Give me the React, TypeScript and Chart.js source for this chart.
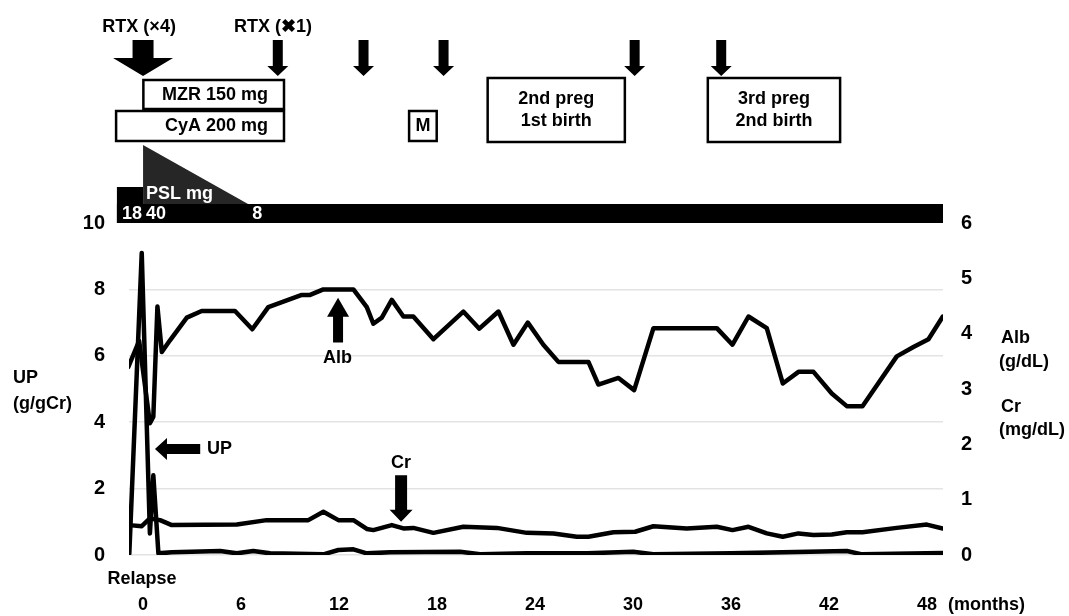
import React, { useEffect, useRef } from "react";
import { Chart, registerables } from "chart.js";

Chart.register(...registerables);

const FONT = '"Liberation Sans", Arial, Helvetica, sans-serif';

// x axis (months after relapse)
const xTickMonths = [0, 6, 12, 18, 24, 30, 36, 42, 48];

// Urinary protein (g/gCr) – left axis
const upMonths = [-0.84, -0.08, 0.42, 0.63, 0.94, 1.76, 4.72, 5.74, 6.75, 7.78, 11.04, 11.96, 12.88, 13.7, 15.13, 19.41, 20.64, 23.51, 27.19, 30.01, 31.24, 36.0, 43.09, 44.03, 48.97];
const upValues = [0.05, 9.1, 0.65, 2.4, 0.05, 0.08, 0.12, 0.05, 0.12, 0.05, 0.02, 0.15, 0.17, 0.05, 0.08, 0.1, 0.02, 0.05, 0.05, 0.1, 0.02, 0.05, 0.12, 0.02, 0.06];

// Albumin (g/dL) – right axis
const albMonths = [-0.9, -0.24, 0.42, 0.63, 0.88, 1.15, 1.65, 2.68, 3.59, 5.63, 6.69, 7.67, 9.72, 10.23, 11.04, 12.88, 13.7, 14.1, 14.62, 15.23, 15.94, 16.55, 17.78, 19.61, 20.59, 21.76, 22.68, 23.56, 24.51, 25.43, 27.27, 27.88, 29.11, 30.07, 31.25, 35.13, 36.09, 37.07, 38.19, 39.17, 40.13, 41.05, 42.17, 43.09, 44.05, 46.15, 47.17, 48.09, 48.97];
const albValues = [3.4, 3.87, 2.38, 2.5, 4.49, 3.67, 3.88, 4.29, 4.41, 4.41, 4.08, 4.48, 4.7, 4.7, 4.8, 4.8, 4.48, 4.18, 4.29, 4.61, 4.31, 4.31, 3.9, 4.4, 4.09, 4.4, 3.8, 4.2, 3.8, 3.49, 3.49, 3.08, 3.2, 2.98, 4.1, 4.1, 3.8, 4.31, 4.1, 3.1, 3.31, 3.31, 2.92, 2.69, 2.69, 3.59, 3.76, 3.9, 4.31];

// Creatinine (mg/dL) – right axis
const crMonths = [-0.84, -0.08, 0.42, 1.04, 1.76, 5.74, 7.57, 10.12, 11.04, 11.96, 12.88, 13.7, 14.1, 15.23, 15.94, 16.55, 17.78, 19.61, 21.66, 23.5, 25.13, 26.56, 27.27, 28.8, 30.13, 31.25, 33.29, 35.13, 36.09, 37.07, 38.19, 39.17, 40.13, 41.05, 42.17, 43.09, 44.05, 46.15, 47.99, 48.97];
const crValues = [0.54, 0.52, 0.66, 0.63, 0.54, 0.55, 0.63, 0.63, 0.78, 0.63, 0.63, 0.47, 0.45, 0.54, 0.48, 0.49, 0.4, 0.51, 0.49, 0.4, 0.39, 0.33, 0.33, 0.41, 0.42, 0.52, 0.48, 0.51, 0.45, 0.51, 0.39, 0.33, 0.39, 0.36, 0.37, 0.41, 0.41, 0.49, 0.55, 0.48];

// Treatment annotations (months)
const rtxArrowMonths = [0, 8.25, 13.5, 18.4, 30.1, 35.4];
const rtxLabels = ["RTX (×4)", "RTX (✖1)"];
const rtxLabelMonths = [-0.24, 7.96];
const pslDoses = ["18", "40", "8"];
const pslDoseMonths = [-0.67, 0.8, 7.0];
const eventBoxes = [
  { from: 0.02, to: 8.63, top: 80, bottom: 109, lines: ["MZR 150 mg"] },
  { from: -1.65, to: 8.63, top: 111, bottom: 141, lines: ["CyA 200 mg"] },
  { from: 16.29, to: 17.98, top: 111, bottom: 141, lines: ["M"] },
  { from: 21.1, to: 29.5, top: 78, bottom: 142, lines: ["2nd preg", "1st birth"] },
  { from: 34.58, to: 42.68, top: 78, bottom: 142, lines: ["3rd preg", "2nd birth"] },
];

const toPoints = (xs: number[], ys: number[]) => xs.map((x, i) => ({ x, y: ys[i] }));
const bold = (s: number) => `bold ${s}px ${FONT}`;

function downArrow(ctx: CanvasRenderingContext2D, x: number, tipY: number, topY: number, shaftW: number, headW: number, headH: number) {
  ctx.beginPath();
  ctx.moveTo(x - shaftW / 2, topY);
  ctx.lineTo(x + shaftW / 2, topY);
  ctx.lineTo(x + shaftW / 2, tipY - headH);
  ctx.lineTo(x + headW / 2, tipY - headH);
  ctx.lineTo(x, tipY);
  ctx.lineTo(x - headW / 2, tipY - headH);
  ctx.lineTo(x - shaftW / 2, tipY - headH);
  ctx.closePath();
  ctx.fill();
}

function upArrow(ctx: CanvasRenderingContext2D, x: number, tipY: number, bottomY: number, shaftW: number, headW: number, headH: number) {
  ctx.beginPath();
  ctx.moveTo(x - shaftW / 2, bottomY);
  ctx.lineTo(x + shaftW / 2, bottomY);
  ctx.lineTo(x + shaftW / 2, tipY + headH);
  ctx.lineTo(x + headW / 2, tipY + headH);
  ctx.lineTo(x, tipY);
  ctx.lineTo(x - headW / 2, tipY + headH);
  ctx.lineTo(x - shaftW / 2, tipY + headH);
  ctx.closePath();
  ctx.fill();
}

function leftArrow(ctx: CanvasRenderingContext2D, tipX: number, y: number, endX: number, shaftH: number, headH: number, headL: number) {
  ctx.beginPath();
  ctx.moveTo(endX, y - shaftH / 2);
  ctx.lineTo(endX, y + shaftH / 2);
  ctx.lineTo(tipX + headL, y + shaftH / 2);
  ctx.lineTo(tipX + headL, y + headH / 2);
  ctx.lineTo(tipX, y);
  ctx.lineTo(tipX + headL, y - headH / 2);
  ctx.lineTo(tipX + headL, y - shaftH / 2);
  ctx.closePath();
  ctx.fill();
}

const annotationPlugin = {
  id: "clinicalAnnotations",
  afterDraw(chart: any) {
    const { ctx, chartArea } = chart;
    const xs = chart.scales.x;
    const yl = chart.scales.y;
    const X = (m: number) => xs.getPixelForValue(m);
    const YL = (v: number) => yl.getPixelForValue(v);
    ctx.save();
    ctx.textBaseline = "middle";

    // RTX labels and arrows
    ctx.fillStyle = "#000";
    ctx.font = bold(18);
    ctx.textAlign = "center";
    rtxLabels.forEach((t, i) => ctx.fillText(t, X(rtxLabelMonths[i]), 27));
    rtxArrowMonths.forEach((m, i) => {
      if (i === 0) downArrow(ctx, X(m), 76, 40, 21, 60, 18);
      else downArrow(ctx, X(m), 76, 40, 10, 21, 10);
    });

    // Boxes
    eventBoxes.forEach((b) => {
      const x0 = X(b.from);
      const x1 = X(b.to);
      ctx.fillStyle = "#fff";
      ctx.fillRect(x0, b.top, x1 - x0, b.bottom - b.top);
      ctx.lineWidth = 2.5;
      ctx.strokeStyle = "#000";
      ctx.strokeRect(x0, b.top, x1 - x0, b.bottom - b.top);
      ctx.fillStyle = "#000";
      ctx.font = bold(18);
      const cy = (b.top + b.bottom) / 2;
      if (b.lines.length === 1) {
        if (b.to - b.from > 4) {
          ctx.textAlign = "right";
          ctx.fillText(b.lines[0], X(7.65), cy + 0.5);
        } else {
          ctx.textAlign = "center";
          ctx.fillText(b.lines[0], (x0 + x1) / 2, cy + 0.5);
        }
      } else {
        ctx.textAlign = "center";
        ctx.fillText(b.lines[0], (x0 + x1) / 2, cy - 11);
        ctx.fillText(b.lines[1], (x0 + x1) / 2, cy + 11);
      }
    });

    // PSL bar
    const barLeft = X(-1.6);
    ctx.fillStyle = "#000";
    ctx.fillRect(barLeft, 187, X(0) - barLeft, 223 - 187);
    ctx.fillStyle = "#262626";
    ctx.beginPath();
    ctx.moveTo(X(0), 145);
    ctx.lineTo(X(6.43), 204);
    ctx.lineTo(X(0), 204);
    ctx.closePath();
    ctx.fill();
    ctx.fillStyle = "#000";
    ctx.fillRect(barLeft, 204, chartArea.right - barLeft, 19);
    ctx.fillStyle = "#fff";
    ctx.font = bold(18);
    ctx.textAlign = "left";
    ctx.fillText("PSL mg", X(0.18), 194);
    ctx.textAlign = "center";
    pslDoses.forEach((d, i) => ctx.fillText(d, X(pslDoseMonths[i]), 214));

    // In-chart arrows and labels
    ctx.fillStyle = "#000";
    upArrow(ctx, X(11.94), YL(7.75), YL(6.4), 10, 22, 19);
    ctx.fillText("Alb", X(11.9), YL(5.93));
    leftArrow(ctx, X(0.73), YL(3.19), X(3.5), 10, 22, 12);
    ctx.textAlign = "left";
    ctx.fillText("UP", X(3.92), YL(3.19));
    ctx.fillStyle = "#000";
    downArrow(ctx, X(15.8), YL(1.0), YL(2.4), 12, 23, 12);
    ctx.textAlign = "center";
    ctx.fillText("Cr", X(15.8), YL(2.77));

    // Axis titles
    ctx.textAlign = "center";
    ctx.fillText("Relapse", X(-0.06), 579);
    ctx.textAlign = "left";
    ctx.fillText("(months)", 948, 605);
    ctx.fillText("UP", 13, 378);
    ctx.fillText("(g/gCr)", 13, 404);
    ctx.fillText("Alb", 1001, 338);
    ctx.fillText("(g/dL)", 999, 362);
    ctx.fillText("Cr", 1001, 407);
    ctx.fillText("(mg/dL)", 999, 430);

    ctx.restore();
  },
};

export default function App() {
  const canvasRef = useRef<HTMLCanvasElement | null>(null);

  useEffect(() => {
    if (!canvasRef.current) return;
    const lineStyle = {
      borderColor: "#000",
      backgroundColor: "#000",
      borderWidth: 4.5,
      borderJoinStyle: "round",
      borderCapStyle: "round",
      pointRadius: 0,
      tension: 0,
      fill: false,
    };
    const chart = new Chart(canvasRef.current, {
      type: "line",
      data: {
        datasets: [
          { label: "UP", data: toPoints(upMonths, upValues), yAxisID: "y", ...lineStyle },
          { label: "Alb", data: toPoints(albMonths, albValues), yAxisID: "y2", ...lineStyle },
          { label: "Cr", data: toPoints(crMonths, crValues), yAxisID: "y2", ...lineStyle },
        ],
      },
      options: {
        animation: false,
        responsive: false,
        devicePixelRatio: 1,
        layout: { padding: { top: 223, left: 0, right: 0, bottom: 0 } },
        plugins: { legend: { display: false }, tooltip: { enabled: false } },
        scales: {
          x: {
            type: "linear",
            min: -0.86,
            max: 48.98,
            afterBuildTicks: (axis: any) => {
              axis.ticks = xTickMonths.map((v) => ({ value: v }));
            },
            afterFit: (axis: any) => {
              axis.height = 61;
            },
            grid: { display: false, drawTicks: false },
            border: { display: false },
            ticks: {
              font: { family: FONT, size: 18, weight: "bold" },
              color: "#000",
              padding: 39,
              maxRotation: 0,
              autoSkip: false,
            },
          },
          y: {
            position: "left",
            min: 0,
            max: 10,
            afterFit: (axis: any) => {
              axis.width = 129;
            },
            grid: {
              drawTicks: false,
              color: (c: any) => (c.tick && c.tick.value === 10 ? "rgba(0,0,0,0)" : "#e3e3e3"),
              lineWidth: 1.5,
            },
            border: { display: false },
            ticks: {
              stepSize: 2,
              font: { family: FONT, size: 20, weight: "bold" },
              color: "#000",
              padding: 24,
            },
          },
          y2: {
            position: "right",
            min: 0,
            max: 6,
            afterFit: (axis: any) => {
              axis.width = 126;
            },
            grid: { drawOnChartArea: false, drawTicks: false },
            border: { display: false },
            ticks: {
              stepSize: 1,
              font: { family: FONT, size: 20, weight: "bold" },
              color: "#000",
              padding: 18,
            },
          },
        },
      },
      plugins: [annotationPlugin],
    } as any);
    return () => chart.destroy();
  }, []);

  return (
    <div style={{ position: "absolute", left: 0, top: 0, width: 1069, height: 616, background: "#fff" }}>
      <canvas ref={canvasRef} width={1069} height={616} style={{ width: 1069, height: 616, display: "block" }} />
    </div>
  );
}
